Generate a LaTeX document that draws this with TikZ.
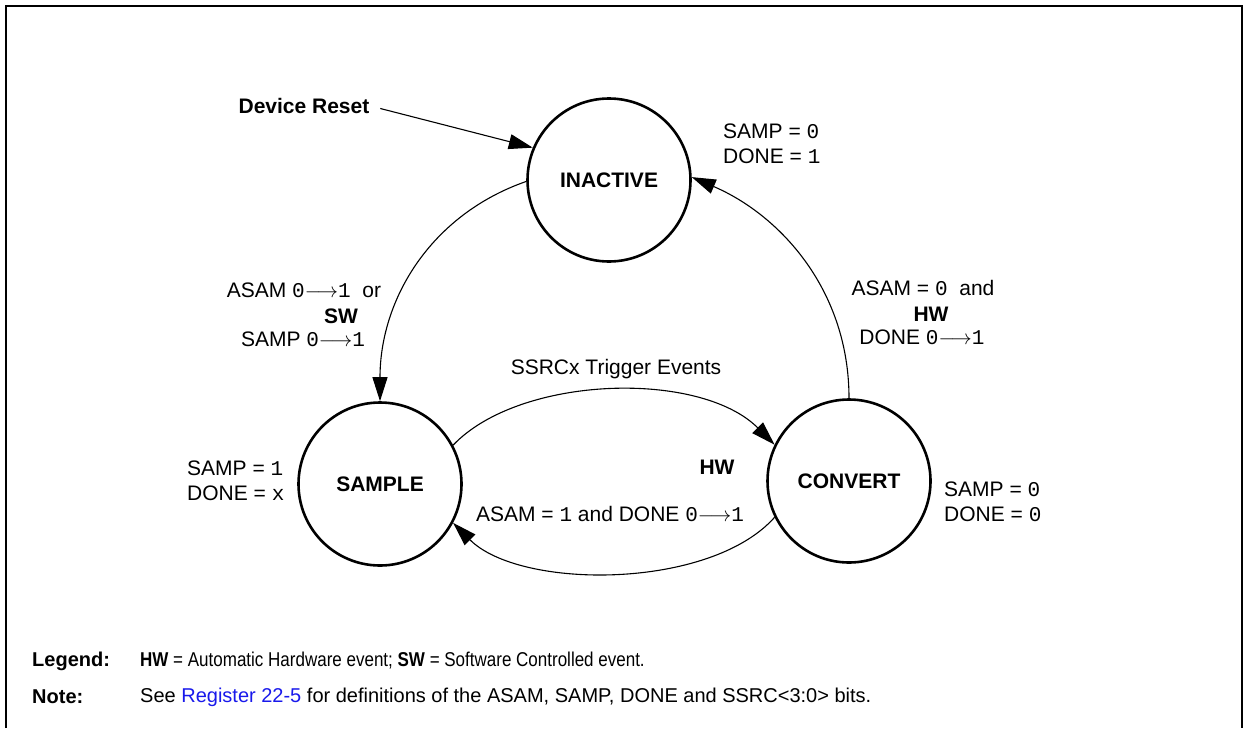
\documentclass[tikz,border=0pt]{standalone}
\usepackage{fontspec}
\setmainfont{Liberation Sans}
\newfontfamily\bitfont{Liberation Mono}
\usetikzlibrary{arrows.meta,positioning}
\definecolor{linkblue}{RGB}{25,25,235}
\newcommand{\bv}[1]{{\bitfont #1}}
\newcommand{\bchg}[2]{\bv{#1}$\longrightarrow$\bv{#2}}

\begin{document}
\begin{tikzpicture}[
  x=1pt,y=-1pt,
  state/.style={circle,draw,line width=2.6pt,minimum size=163pt,inner sep=0pt,
                font=\fontsize{21}{25}\selectfont\bfseries},
  lbl/.style ={inner sep=1pt,font=\fontsize{21}{25}\selectfont},
  stack/.style={lbl,align=left,anchor=west},
  bold/.style={inner sep=1pt,font=\fontsize{21}{25}\selectfont\bfseries},
  note/.style={anchor=west,inner sep=0pt,font=\fontsize{20}{24}\selectfont},
  frame/.style={line width=2.3pt},
  arr/.style ={-{Triangle[length=24pt,width=15pt]},line width=1.1pt}
]
\useasboundingbox (0,0) rectangle (1246,728);
\draw[frame] (6,728) -- (6,6) -- (1242,6) -- (1242,728);

% states
\node[state] (inactive) at (609,180) {INACTIVE};
\node[state] (sample)   at (380,484) {SAMPLE};
\node[state] (convert)  at (849,481) {CONVERT};

% state bit values
\node[stack] (vinact) at (722,144) {SAMP = \bv{0}\\DONE = \bv{1}};
\node[stack] (vsamp)  at (186,481) {SAMP = \bv{1}\\DONE = \bv{x}};
\node[stack] (vconv)  at (943,502) {SAMP = \bv{0}\\DONE = \bv{0}};

% transition labels
\node[bold] (reset) at (304,106) {Device Reset};
\node[lbl] (tsw1) at (304,290) {ASAM \bchg{0}{1}\ \ or};
\node[lbl] (tsw2) at (303,339) {SAMP \bchg{0}{1}};
\node[bold] (sw)  at (341,316) {SW};
\node[lbl] (thw1) at (923,288) {ASAM = \bv{0}\ \ and};
\node[lbl] (thw2) at (922,337) {DONE \bchg{0}{1}};
\node[bold] (hw1) at (931,314) {HW};
\node[lbl] (trig) at (616,369) {SSRCx Trigger Events};
\node[lbl] (tback) at (610,514) {ASAM = \bv{1}\ and DONE \bchg{0}{1}};
\node[bold] (hw2) at (717,467) {HW};

% legend
\node[note] (leg) at (32,661) {\bfseries Legend:};
\node[note] (legtxt) at (140,661) {\scalebox{0.85}[1]{\textbf{HW} = Automatic Hardware event; \textbf{SW} = Software Controlled event.}};
\node[note] (nt) at (32,697) {\bfseries Note:};
\node[note] (nttxt) at (140,697) {See \textcolor{linkblue}{Register 22-5} for definitions of the ASAM, SAMP, DONE and SSRC<3:0> bits.};

% transitions
\draw[arr,shorten <=10pt] (reset.east) -- (inactive.157);
\draw[arr] (inactive.181) .. controls (430,215) and (380,300) .. (sample.north);
\draw[arr] (convert.north) .. controls (849,290) and (780,215) .. (inactive.2);
\draw[arr] (sample.28) .. controls (520,375) and (700,370) .. (convert.154);
\draw[arr] (convert.206) .. controls (710,590) and (520,590) .. (sample.332);
\end{tikzpicture}
\end{document}
